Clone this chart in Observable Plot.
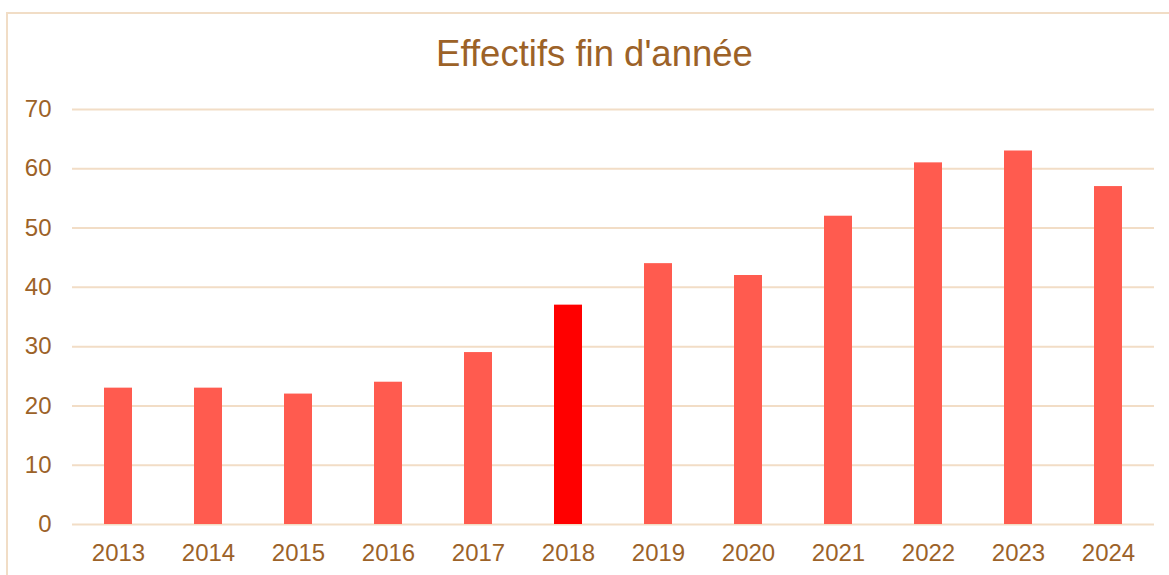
<!DOCTYPE html>
<html>
<head>
<meta charset="utf-8">
<script src="https://cdn.jsdelivr.net/npm/d3@7"></script>
<script src="https://cdn.jsdelivr.net/npm/@observablehq/plot@0.6"></script>
<style>
  html, body { margin: 0; padding: 0; background: #fff; overflow: hidden; width: 1169px; height: 575px; }
  #frame { position: absolute; left: 6px; top: 12px; width: 1200px; height: 600px; border: 2px solid #F1DDC6; box-sizing: border-box; }
  #title { position: absolute; left: 0; top: 36px; width: 1189px; text-align: center; font-family: "Liberation Sans", Arial, sans-serif; font-size: 36.5px; line-height: 36px; color: #9C6228; }
  #chart { position: absolute; left: 0; top: 0; }
</style>
</head>
<body>
<div id="frame"></div>
<div id="chart"></div>
<div id="title">Effectifs fin d'année</div>
<script>
const years = ["2013","2014","2015","2016","2017","2018","2019","2020","2021","2022","2023","2024"];
const values = [23, 23, 22, 24, 29, 37, 44, 42, 52, 61, 63, 57];
const highlightYear = "2018";
const yTicks = [0, 10, 20, 30, 40, 50, 60, 70];

const data = years.map((y, i) => ({year: y, value: values[i]}));
const textColor = "#9C6228";
const gridColor = "#F2DDC6";

const chart = Plot.plot({
  width: 1169,
  height: 575,
  marginLeft: 72,
  marginRight: 15,
  marginTop: 109,
  marginBottom: 51,
  style: { fontFamily: "'Liberation Sans', Arial, sans-serif", fontSize: "24px", color: textColor, background: "transparent", overflow: "visible" },
  x: { domain: years, paddingInner: 0.69, paddingOuter: 0.345, label: null },
  y: { domain: [0, 70], label: null },
  marks: [
    Plot.gridY(yTicks, { stroke: gridColor, strokeOpacity: 1, strokeWidth: 2 }),
    Plot.barY(data, { x: "year", y: "value", fill: d => d.year === highlightYear ? "#FF0000" : "#FF5B4F" }),
    Plot.axisY(yTicks, { tickSize: 0, tickPadding: 21, fill: textColor, fontSize: 24, label: null }),
    Plot.axisX({ tickSize: 0, tickPadding: 19, fill: textColor, fontSize: 24, label: null })
  ]
});
document.getElementById("chart").appendChild(chart);
</script>
</body>
</html>
